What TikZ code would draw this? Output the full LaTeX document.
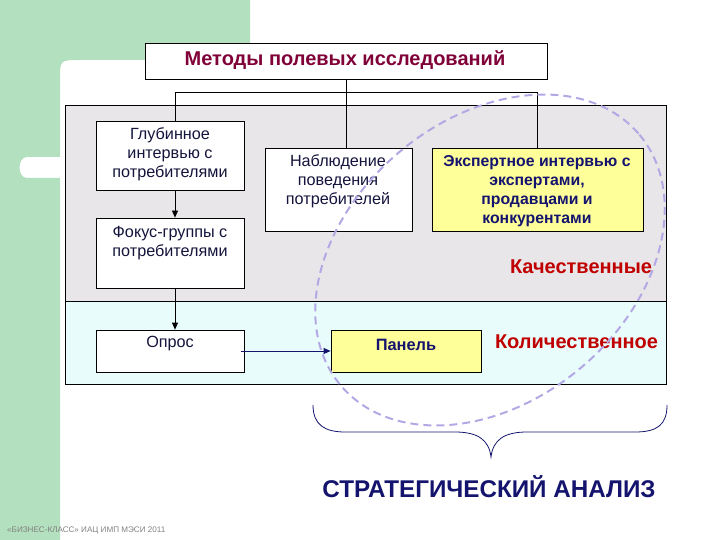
\documentclass[tikz,border=0pt]{standalone}
\usepackage{fontspec}
\setmainfont{Liberation Sans}
\usetikzlibrary{arrows.meta,calc}
\definecolor{bggreen}{RGB}{179,224,190}
\definecolor{panelgray}{RGB}{232,230,232}
\definecolor{panelcyan}{RGB}{232,252,252}
\definecolor{boxyellow}{RGB}{255,255,153}
\definecolor{titlered}{RGB}{128,0,56}
\definecolor{labelred}{RGB}{192,0,0}
\definecolor{navy}{RGB}{20,20,110}
\definecolor{dark}{RGB}{20,20,60}
\definecolor{lavender}{RGB}{180,168,228}
\begin{document}
\begin{tikzpicture}[x=1pt,y=-1pt,
  box/.style={draw=black,line width=0.8pt,fill=white,inner sep=0pt},
  ybox/.style={box,fill=boxyellow},
  txt/.style={align=center,text=dark,font=\fontsize{16.2}{19}\selectfont,inner sep=0pt},
  btxt/.style={align=center,text=navy,font=\bfseries\fontsize{15.8}{19}\selectfont,inner sep=0pt},
  conn/.style={draw=black,line width=0.8pt},
  arr/.style={conn,-{Triangle[length=7pt,width=6pt]}}]
\useasboundingbox (0,0) rectangle (720,540);
% background
\fill[bggreen] (0,0) -- (250,0) -- (250,60) -- (80,60) .. controls (60,60) .. (60,80) -- (60,157)
  -- (27,157) .. controls (17,157) and (17,178) .. (27,178) -- (60,178) -- (60,540) -- (0,540) -- cycle;
% panels
\node[draw=black,line width=0.8pt,fill=panelgray,minimum width=601,minimum height=196,inner sep=0pt] (qual) at (365.5,203) {};
\node[draw=black,line width=0.8pt,fill=panelcyan,minimum width=601,minimum height=83,inner sep=0pt] (quant) at (365.5,342.5) {};
% title
\node[box,minimum width=402,minimum height=36] (title) at (346,61) {};
\node[inner sep=0pt,text=titlered,font=\bfseries\fontsize{20}{23}\selectfont] (titletxt) at (345,60) {Методы полевых исследований};
% boxes
\node[box,minimum width=148,minimum height=69] (glub) at (170,155.5) {};
\node[box,minimum width=148,minimum height=70] (fokus) at (170,253) {};
\node[box,minimum width=148,minimum height=42] (opros) at (170,351) {};
\node[box,minimum width=147,minimum height=83] (nabl) at (338.5,189.5) {};
\node[ybox,minimum width=211,minimum height=83] (expert) at (537.5,189.5) {};
\node[ybox,minimum width=150,minimum height=42] (panel) at (406,351) {};
% texts
\node[txt] (glubtxt) at (170,154) {Глубинное\\интервью с\\потребителями};
\node[txt] (fokustxt) at (170,243) {Фокус-группы с\\потребителями};
\node[txt] (oprostxt) at (170,344) {Опрос};
\node[txt] (nabltxt) at (338,181) {Наблюдение\\поведения\\потребителей};
\node[btxt] (experttxt) at (537,191) {Экспертное интервью с\\экспертами,\\продавцами и\\конкурентами};
\node[btxt,font=\bfseries\fontsize{16.4}{19}\selectfont] (paneltxt) at (406,345) {Панель};
\node[inner sep=0pt,text=labelred,font=\bfseries\fontsize{20}{23}\selectfont] (kach) at (581,267) {Качественные};
\node[inner sep=0pt,text=labelred,font=\bfseries\fontsize{20}{23}\selectfont] (kol) at (576.5,342) {Количественное};
% connectors
\coordinate (j) at (346,92);
\draw[conn] (title.south) -- (j);
\draw[conn] ([xshift=5pt]glub.north) |- (expert.north |- j) -- (expert.north);
\draw[conn] (j) -- (j |- nabl.north);
\draw[arr] ([xshift=5pt]glub.south) -- ([xshift=5pt]fokus.north);
\draw[arr] ([xshift=5pt]fokus.south) -- ([xshift=5pt]opros.north);
\draw[arr,draw=navy,fill=navy] ([xshift=-3pt]opros.east) -- (panel.west);
% dashed ellipse
\draw[lavender,line width=2pt,dash pattern=on 8pt off 5pt,rotate around={40:(490,260)}] (490,260) ellipse [x radius=195, y radius=141];
% brace
\draw[navy,line width=0.8pt] (313,405) .. controls (313,425) and (325,432) .. (345,432) -- (455,432)
  .. controls (478,432) and (489,440) .. (491,457) .. controls (493,440) and (504,432) .. (527,432)
  -- (635,432) .. controls (657,432) and (667,425) .. (667,405);
\node[inner sep=0pt,text=navy,font=\bfseries\fontsize{24.2}{28}\selectfont] (strat) at (489,487) {СТРАТЕГИЧЕСКИЙ АНАЛИЗ};
\node[inner sep=0pt,anchor=west,text=gray,font=\fontsize{8.1}{9}\selectfont] (foot) at (7,530) {«БИЗНЕС-КЛАСС» ИАЦ ИМП МЭСИ 2011};
\end{tikzpicture}
\end{document}
